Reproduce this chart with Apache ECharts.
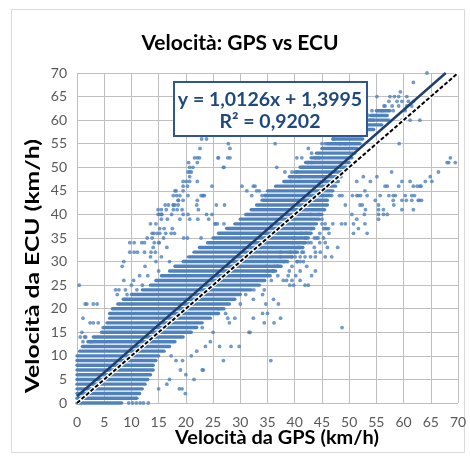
<!DOCTYPE html>
<html>
<head>
<meta charset="utf-8">
<script src="https://cdn.jsdelivr.net/npm/echarts@6/dist/echarts.min.js"></script>
<style>
html,body{margin:0;padding:0;background:#fff;}
#c{width:470px;height:458px;}
</style>
</head>
<body>
<div id="c"></div>
<script>
// ---- data ----
const axisTicks = [0,5,10,15,20,25,30,35,40,45,50,55,60,65,70];
// dense horizontal stripes: ECU value (integer) and GPS range covered
const stripeEcu = [0,1,2,3,4,5,6,7,8,9,10,11,12,13,14,15,16,17,18,19,20,21,22,23,24,25,26,27,28,29,30,31,32,33,34,35,36,37,38,39,40,41,42,43,44,45,46,47,48,49,50,51,52,53,54,55,56,57,58,59,60,61,62];
const stripeGpsLo = [0,0,0,0,0,0,0,0,0,0,0,0.5,1,2,3,4.5,5,5.5,6,6,6.5,7.5,8.5,10,12,13.5,14.5,15.5,17,18,19.5,20.5,21.5,22.5,24,25,26,27.5,29,30,31,32,33,34,34.5,35,36.5,38,39,40,41,42,43,44,45,46,47,49,51,52,53,54,55];
const stripeGpsHi = [8.2,11,11.5,12,12.5,13,13.5,14,14,14.5,15,16,17,18,19.5,21,22,23,24.5,26,27,28,29,30,32,33.5,34.5,35.5,36.5,37.5,38.5,39.5,40.5,41.5,42,42.5,43,43.5,44,44.5,45,45.5,46,46,46.5,47,47.5,48,48.5,49,49.5,50,50.5,51,51.5,52,52.5,53,54.5,56,57,57,57.5];
// isolated points [GPS, ECU]
const scatterPoints = [
[22.1,52],[22.5,52],[25.9,52],[27.7,52],[20.5,51],[22.1,51],[20.7,50],[27,50],[20.4,49],[20.7,49],[20.7,48],
[19.5,47],[20.1,47],[20.7,47],[22.1,47],[19.5,46],[20.3,46],[18.2,45],[19.5,45],[17.7,44],[18.9,44],[20.4,44],[23.1,44],[23.4,44],
[18.6,43],[19.5,43],[22.1,43],[17.7,42],[18.0,42],[18.6,42],[25.6,42],[27.1,42],[15.5,41],[16.4,41],[17.7,41],[18.4,41],[19.3,41],
[23.8,40],[14.9,40],[15.5,40],[17.4,40],[19.5,40],[20.4,40],[15.5,39],[16.6,39],[18.9,39],[20.7,39],[22.2,39],[24.2,39],
[25.4,38],[25.8,38],[27,38],[15.2,37],[14.1,36],[14.7,36],[15.2,36],[16.3,36],[17.9,36],[22.8,35],[19.6,35],[20.3,35],
[10.5,34],[12.4,34],[14.2,34],[15.1,34],[10.5,32],[11.1,32],[12.4,32],[13.6,32],[14.4,32],[8.6,30],[8.3,29],[0.4,25],
[8.6,26],[10.4,26],[7.1,24],[7.7,24],[8.9,24],[7.4,23],[9.2,23],
[22.9,56],[23.8,56],[22.6,54],[27.8,55],[28.1,54],[28.1,52],[26,52],[26.9,50],[21.6,52],[21.3,50],[21.0,49],[24.8,46],
[18,45],[18.3,44],[18.6,43],[23.2,44],[22.8,44],[22,42],[22.3,41],[16.2,42],[16.8,42],[17.7,42],[14.9,41],[15.6,40],[15.2,40],
[9.7,34],[9.7,32],[11.9,34],[12.9,35],[13.8,36],[15.9,35],[17.3,36],[30.3,46],[31.2,45],[32.1,44],[32.4,46],[33,45],[24.8,40],[25.4,38],
[13.5,38],[14.5,38],[16,37],[17.5,37],[13.8,35],[15,34],[16.5,33],[14,33],[13.5,31],[15.5,31],[17,30],[14.5,30],[12.5,29],[15,28],[11.5,27],[13,27],[12,25],[10,25],[11,24],
[1.8,21],[3.7,21],[1.1,18],[3,17],[3.9,17],[4.8,16],[1.4,14],[1.1,13],[2.6,13],[1.5,21],[3,21],[0.9,15],[0.6,14],[1.6,14],[2.4,17],
[17.3,10],[18.2,9],[19.4,9],[23,7],[23.2,7],[26.9,9],[23.6,12],[26.2,12],[28.3,12],[29.8,12],[31.6,15],[27.7,18],[29,18],[27.3,19],
[18.8,3],[19.3,3],[19.9,2],[9.5,0],[10.2,0],[10.9,0],[11.6,0],[12.2,0],[13.1,0],
[20,6],[21.5,5],[16.5,4],[15,3],[17,5],[19,7],[21,10],[22,11],[24.5,13],[25,15],[23,16],[28,17],[26,20],[30,21],[31,23],[32.5,24],
[45.3,44],[46.8,44],[48.7,44],[51.7,44],[53.3,44],[54.8,43],[57.3,44],[58.5,44],[59.7,43],[60.5,43],[62,44],[62.9,43],[63.3,43],
[49.3,42],[52.4,42],[55.4,42],[58.2,42],[55.4,41],[59.7,41],[61.8,41],[42.9,40],[44.4,40],[45,39],[50.5,40],[55.4,40],[55.4,39],
[48.6,38],[49.3,38],[50.8,38],[45.6,38],[43,37],[45.6,37],[46.2,37],[41.2,36],[42.1,36],[44.6,36],[50.8,36],
[39.9,35],[43.6,35],[44,35],[44.3,35],[45.3,35],[39.6,34],[41.7,34],[44.6,34],[45.6,34],[40.8,33],[43.6,33],[46,33],[47.9,33],
[37.4,32],[39.2,32],[37.4,31],[39.5,31],[41,31],[42.9,31],[38,30],[38.7,30],[40.5,30],[34.8,29],[36.3,29],[36.9,29],[39.5,29],
[36,28],[41,28],[36.9,27],[40.2,27],[35.7,26],[38.5,26],[39.1,25],[39.8,25],[34.4,24],[34.7,21],[35,19],[34.4,17],[48.7,16],
[35.6,9],[36.2,17],[37.4,18],[34.1,19],[32.4,18],[36.1,22],[37,21],[34.1,23],[32.4,22],[31.8,15],
[39.5,26],[41,26],[41.9,25],[42.5,25],[43.1,27],[43.8,28],[42.2,29],[41,30],[41.6,30],[40.4,30],[40.1,31],[41.9,31],[43.8,31],[45.6,31],[40.1,32],[41.6,32],
[38.8,27],[37.9,26],[35,28],[36.8,29],[39,28],
[64.3,70],[61.8,68],[59.4,66],[55.1,65],[57.5,65],[58.3,65],[59.1,65],[60.6,65],[57.3,64],[58.8,64],[59.7,64],[60.9,64],[61.8,64],
[56.4,63],[57.9,63],[59.1,63],[60.6,63],[61.5,63],[54.2,62],[56,62],[58.1,62],[60.3,62],[53.9,60],[57.3,60],[59.7,60],[61.2,60],[63,60],
[59.2,55],[68.6,52],[68,51],[68.3,51],[69.5,51],[66.4,49],[64.9,48],[64,47],[61.2,47],[61.8,46],[62.5,46],[63.2,46],[59.7,47],[59.1,46],
[57.8,49],[56.6,46],[53.9,47],[55.1,48],[52.6,48],[51.4,47],[48.2,44],[50.6,44],[52.1,44],[55.7,44],[58.1,44],[60.3,44],[61.5,44],
[56.6,63],[53.5,61],[54.4,60],[48.3,55],[49.3,55],[47.1,56],[45.6,55],[45,55],[42.5,54],[43.1,53],[43.8,52],[44.4,52],
[40.4,52],[41.3,52],[42.5,51],[43.1,51],[36.4,55],[36.7,50],[38.2,49],[39.5,49],[40.4,49],[41.6,50],[32.7,46],[33.5,45],[34,44],[34.6,44],
[39.3,47],[40.9,48],[51.4,44],[52.9,45],[65.2,47],[63,46],[57,46],[58.1,43],[56.3,41],[56.3,40],[61.5,43],[62.7,43],[57,40],
[52,42],[53,41],[52.8,40],[51.4,39],[51.7,37],[53.3,36],[52.9,38],[45,38],[45.3,37],[45.9,37],[46.3,36],[47,38],
[42,35],[42.5,34],[43,34],[43.8,32],[44.7,32],[46.8,31],[41.3,32]
];
// linear trend line from the picture's equation
const trendCoef = [1.0126, 1.3995]; // slope, intercept
const equationLines = ['y = 1,0126x + 1,3995', 'R² = 0,9202'];
// reference line y = x
const identityLine = [[0,0],[70,70]];

const trendXEnd = (70 - trendCoef[1]) / trendCoef[0];
const trendData = [[0, trendCoef[1]], [trendXEnd, trendCoef[0]*trendXEnd + trendCoef[1]]];

const chart = echarts.init(document.getElementById('c'), null, {renderer:'canvas'});
const font = 'Lato, "Liberation Sans", sans-serif';
const blue = '#4F81BD';
const axisCommon = {
  type:'value', min:0, max:70, interval:5,
  axisLine:{show:false}, axisTick:{show:false},
  splitLine:{show:true, lineStyle:{color:'#BFBFBF', width:1}},
  axisLabel:{color:'#595959', fontFamily:font, fontSize:14}
};
chart.setOption({
  animation:false,
  backgroundColor:'#fff',
  grid:{left:77, right:12, top:73, bottom:55, containLabel:false},
  xAxis:Object.assign({}, axisCommon, {axisLabel:Object.assign({}, axisCommon.axisLabel, {margin:12})}),
  yAxis:Object.assign({}, axisCommon, {axisLabel:Object.assign({}, axisCommon.axisLabel, {margin:10})}),
  series:[
    {
      type:'custom', z:2,
      data: stripeEcu.map((y,i)=>[stripeGpsLo[i], stripeGpsHi[i], y]),
      encode:{x:[0,1], y:2},
      renderItem:(params, api)=>{
        const p1 = api.coord([api.value(0), api.value(2)]);
        const p2 = api.coord([api.value(1), api.value(2)]);
        return {type:'line', shape:{x1:p1[0], y1:p1[1], x2:p2[0], y2:p2[1]},
          style:{stroke:blue, lineWidth:3.4, lineCap:'round'}};
      }
    },
    {
      type:'scatter', z:3, symbol:'circle', symbolSize:3.8,
      itemStyle:{color:blue}, data:scatterPoints
    },
    {
      type:'line', z:4, data:identityLine, symbol:'none', silent:true,
      lineStyle:{color:'#ffffff', width:4}
    },
    {
      type:'line', z:5, data:identityLine, symbol:'none', silent:true,
      lineStyle:{color:'#000000', width:2, type:[4,2]}
    },
    {
      type:'line', z:6, data:trendData, symbol:'none', silent:true,
      lineStyle:{color:'#1F3F6E', width:2.5}
    }
  ],
  graphic:[
    {type:'rect', left:9, top:7, shape:{width:453, height:443}, style:{fill:'none', stroke:'#D9D9D9', lineWidth:1}, z:0},
    {type:'text', x:240, y:43, style:{text:'Velocità: GPS vs ECU', font:'bold 21px '+font, fill:'#000', align:'center', verticalAlign:'middle'}, z:10},
    {type:'text', x:277, y:438, scaleX:1.05, style:{text:'Velocità da GPS (km/h)', font:'bold 19px '+font, fill:'#000', align:'center', verticalAlign:'middle'}, z:10},
    {type:'text', x:33, y:266, rotation:Math.PI/2, scaleX:1.3, style:{text:'Velocità da ECU (km/h)', font:'bold 19px '+font, fill:'#000', align:'center', verticalAlign:'middle'}, z:10},
    {type:'rect', x:174, y:82, shape:{width:193, height:54}, style:{fill:'#fff', stroke:'#2F5597', lineWidth:2}, z:20},
    {type:'text', x:270, y:100, style:{text:equationLines[0], font:'bold 19.5px '+font, fill:'#1F497D', align:'center', verticalAlign:'middle'}, z:21},
    {type:'text', x:270, y:122, style:{text:equationLines[1], font:'bold 19.5px '+font, fill:'#1F497D', align:'center', verticalAlign:'middle'}, z:21}
  ]
});
</script>
</body>
</html>
